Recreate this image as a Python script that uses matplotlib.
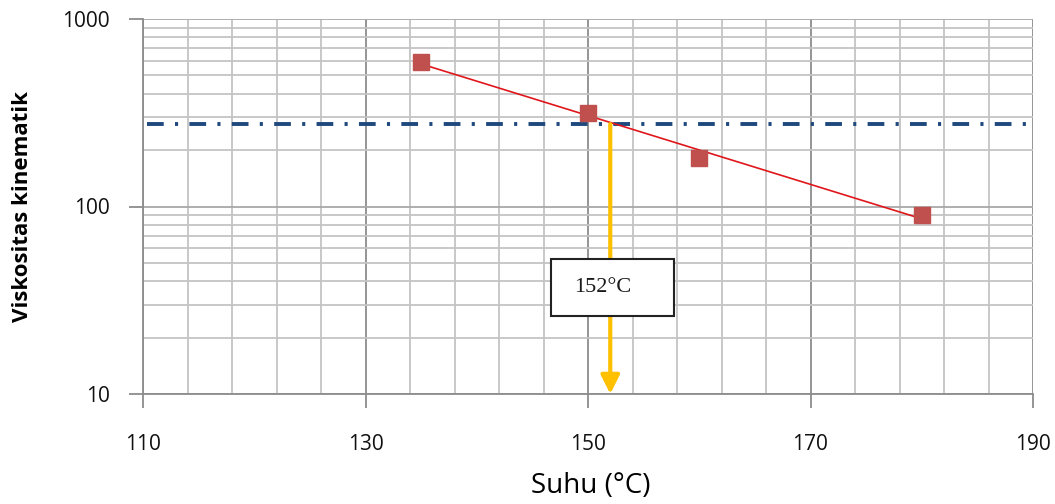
import numpy as np
import matplotlib
matplotlib.use("Agg")
import matplotlib.pyplot as plt
from matplotlib.ticker import FixedLocator, NullFormatter, LogLocator
from matplotlib.patches import Rectangle

# Data
suhu = [135, 150, 160, 180]
viskositas = [590, 315, 181, 90]
target_visc = 275
target_temp = 152
x_ticks = [110, 130, 150, 170, 190]
y_ticks = [10, 100, 1000]
y_ticklabels = ["10", "100", "1000"]
box_label = "152°C"

fig = plt.figure(figsize=(10.55, 5.04), dpi=100)
ax = fig.add_axes([143/1055, 1-394/504, (1033-143)/1055, (394-19)/504])
ax.set_yscale("log")
ax.set_xlim(110, 190)
ax.set_ylim(10, 1000)

# grid
ax.xaxis.set_major_locator(FixedLocator(x_ticks))
ax.xaxis.set_minor_locator(FixedLocator(np.arange(110, 191, 4)))
ax.yaxis.set_major_locator(FixedLocator(y_ticks))
ax.yaxis.set_minor_locator(LogLocator(base=10, subs=np.arange(2, 10)))
ax.yaxis.set_minor_formatter(NullFormatter())
ax.set_yticklabels(y_ticklabels)
ax.grid(which="minor", color="#c4c4c4", linewidth=1.3)
ax.grid(which="major", axis="x", color="#8c8c8c", linewidth=1.3)
ax.grid(which="major", axis="y", color="#a8a8a8", linewidth=1.3)
ax.set_axisbelow(True)
for s in ["top", "right"]:
    ax.spines[s].set_visible(False)
for s in ["left", "bottom"]:
    ax.spines[s].set_color("#8c8c8c")
    ax.spines[s].set_linewidth(1.3)

ax.tick_params(axis="x", which="major", length=10, width=1.3, color="#8c8c8c", pad=19,
               labelsize=15)
ax.tick_params(axis="y", which="major", length=10, width=1.3, color="#8c8c8c", pad=14,
               labelsize=15)
ax.tick_params(which="minor", length=0)
for lab in ax.get_xticklabels() + ax.get_yticklabels():
    lab.set_fontfamily("Open Sans")
    lab.set_color("#111111")

# trend line (exponential fit)
coef = np.polyfit(suhu, np.log(viskositas), 1)
xs = np.linspace(min(suhu), max(suhu), 50)
ax.plot(xs, np.exp(np.polyval(coef, xs)), color="#e0161b", linewidth=1.2, zorder=3)
ax.plot(suhu, viskositas, linestyle="none", marker="s", markersize=12,
        color="#c0504d", zorder=4)

# horizontal dash-dot line
ax.plot([110.4, 189.4], [target_visc, target_visc], color="#1f497d", linewidth=2.8,
        linestyle=(0, (4.3, 2.9, 0.8, 2.9)), zorder=2)

# yellow arrow
ax.annotate("", xy=(target_temp, 10), xytext=(target_temp, target_visc),
            arrowprops=dict(arrowstyle="-|>", color="#ffc000", lw=3,
                            mutation_scale=28, shrinkA=0, shrinkB=0), zorder=3)

# text box
ax.add_patch(Rectangle((0.458, 0.208), 0.139, 0.152, transform=ax.transAxes,
                       facecolor="white", edgecolor="#222222", linewidth=1.5, zorder=5))
ax.text(0.517, 0.285, box_label, transform=ax.transAxes, fontsize=16,
        family="Liberation Serif", color="#1a1a1a", ha="center", va="center", zorder=6)

fig.text(23/1055, 1-206/504, "Viskositas kinematik", rotation=90, fontsize=16,
         fontweight="bold", family="Open Sans", ha="center", va="center")
fig.text(591/1055, 1-486/504, "Suhu (°C)", fontsize=20, family="Open Sans",
         ha="center", va="center")

fig.savefig("out.png", dpi=100)
